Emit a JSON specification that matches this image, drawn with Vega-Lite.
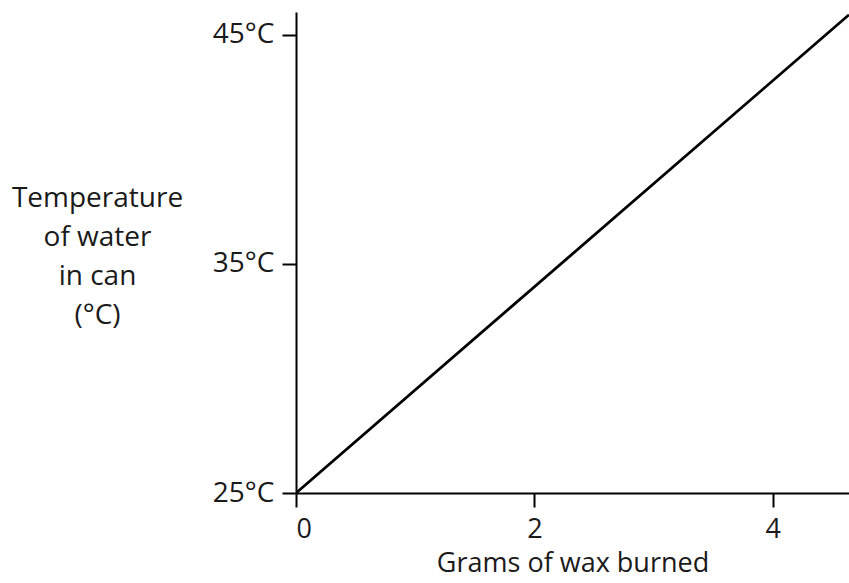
{
  "$schema": "https://vega.github.io/schema/vega-lite/v6.json",
  "autosize": {"type": "none"},
  "width": 553,
  "height": 481,
  "padding": {"left": 296, "top": 12, "right": 0, "bottom": 90},
  "background": "white",
  "config": {
    "view": {"stroke": null},
    "font": "Open Sans",
    "axis": {
      "grid": false,
      "domainColor": "black",
      "domainWidth": 2,
      "tickColor": "black",
      "tickWidth": 2,
      "tickSize": 14,
      "labelFont": "Open Sans",
      "labelFontSize": 28,
      "labelColor": "#1a1a1a",
      "titleFont": "Open Sans",
      "titleFontSize": 28,
      "titleFontWeight": "normal",
      "titleColor": "#1a1a1a"
    }
  },
  "data": {
    "values": [
      {"grams": 0, "temp": 25},
      {"grams": 4.64, "temp": 45.88}
    ]
  },
  "mark": {"type": "line", "color": "black", "strokeWidth": 2.8, "clip": true},
  "encoding": {
    "x": {
      "field": "grams",
      "type": "quantitative",
      "scale": {"domain": [0, 4.64], "nice": false, "zero": false},
      "axis": {
        "values": [0, 2, 4],
        "labelPadding": 9,
        "labelFontSize": 27,
        "title": "Grams of wax burned",
        "titleFontSize": 27,
        "titlePadding": 8
      }
    },
    "y": {
      "field": "temp",
      "type": "quantitative",
      "scale": {"domain": [25, 46], "nice": false, "zero": false},
      "axis": {
        "values": [25, 35, 45],
        "labelExpr": "datum.value + '°C'",
        "labelPadding": 8,
        "title": ["Temperature", "of water", "in can", "(°C)"],
        "titleAngle": 0,
        "titleAlign": "center",
        "titleBaseline": "middle",
        "titleX": -199,
        "titleY": 186,
        "titleLineHeight": 39
      }
    }
  }
}
